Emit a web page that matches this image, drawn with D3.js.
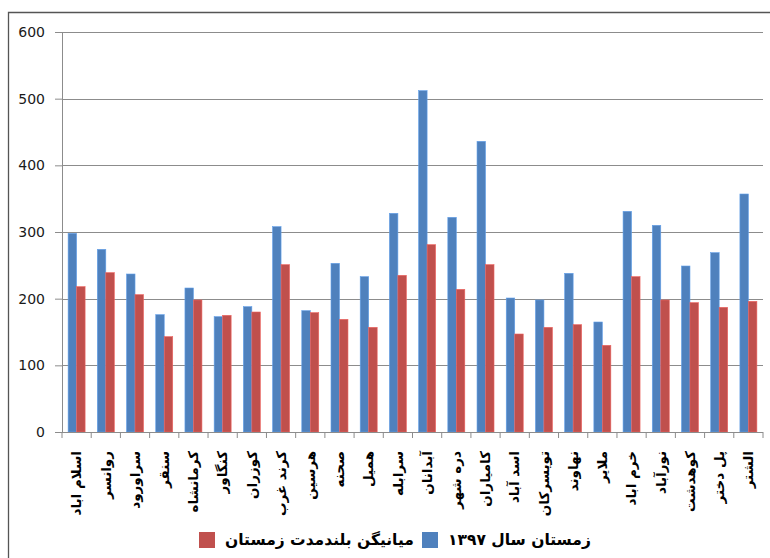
<!DOCTYPE html>
<html>
<head>
<meta charset="utf-8">
<script src="https://cdnjs.cloudflare.com/ajax/libs/d3/7.8.5/d3.min.js"></script>
<style>
  body { margin: 0; background: #fff; }
  svg { display: block; }
</style>
</head>
<body>
<div id="chart"></div>
<script>
// categories (cities)
var cities = ["اسلام اباد", "روانسر", "سراورود", "سنقر", "کرمانشاه", "کنگاور", "کوزران", "کرند غرب",
    "هرسین", "صحنه", "همیل", "سرابله", "آبدانان", "دره شهر", "کامیاران", "اسد آباد",
    "تویسرکان", "نهاوند", "ملایر", "خرم اباد", "نورآباد", "کوهدشت", "پل دختر", "الشتر"];

// winter 1397
var winter1397 = [298, 274, 237, 176, 216, 173, 188, 308, 182, 253, 233, 328,
    512, 322, 436, 201, 198, 238, 165, 331, 310, 249, 269, 357];

// long-term winter mean
var winterMean = [218, 239, 206, 143, 198, 175, 180, 251, 179, 169, 157, 235,
    281, 214, 251, 147, 157, 161, 130, 233, 198, 194, 187, 196];

var seriesNames = ["زمستان سال ۱۳۹۷", "میانیگن بلندمدت زمستان"];
var yTicks = [0, 100, 200, 300, 400, 500, 600];

var W = 770, H = 558;
var margin = {top: 32, right: 7, bottom: 126, left: 62},
    width = W - margin.left - margin.right,
    height = H - margin.top - margin.bottom;

var colors = ["#4F81BD", "#C0504D"];

var svg = d3.select("#chart")
    .append("svg")
    .attr("width", W)
    .attr("height", H);

// outer frame (left and top edges visible)
svg.append("path")
    .attr("d", "M8.5," + H + "V12.5H" + W)
    .attr("fill", "none")
    .attr("stroke", "#555")
    .attr("stroke-width", 1.3);

var g = svg.append("g")
    .attr("transform", "translate(" + margin.left + "," + margin.top + ")");

var x0 = d3.scaleBand()
    .domain(cities)
    .range([0, width])
    .padding(0);

var x1 = d3.scaleBand()
    .domain([0, 1])
    .range([0, x0.bandwidth()])
    .paddingInner(0)
    .paddingOuter(0.72);

var y = d3.scaleLinear()
    .domain([0, 600])
    .range([height, 0]);

// gridlines + y axis
var yAxis = g.append("g")
    .call(d3.axisLeft(y).tickValues(yTicks).tickSize(7).tickPadding(10).tickFormat(d3.format("d")));
yAxis.select(".domain").attr("stroke", "#8c8c8c");
yAxis.selectAll(".tick line").attr("stroke", "#8c8c8c");
yAxis.selectAll(".tick text")
    .style("font-family", "DejaVu Sans")
    .style("font-size", "14px")
    .attr("fill", "#1a1a1a");

g.append("g")
    .selectAll("line")
    .data(yTicks.filter(function(d) { return d > 0; }))
    .enter()
    .append("line")
    .attr("x1", 0)
    .attr("x2", width)
    .attr("y1", function(d) { return Math.round(y(d)) + 0.5; })
    .attr("y2", function(d) { return Math.round(y(d)) + 0.5; })
    .attr("stroke", "#8c8c8c")
    .attr("stroke-width", 1.2);

// bars
var groups = g.append("g")
    .selectAll("g")
    .data(cities)
    .enter()
    .append("g")
    .attr("transform", function(d) { return "translate(" + x0(d) + ",0)"; });

groups.selectAll("rect")
    .data(function(d, i) { return [winter1397[i], winterMean[i]]; })
    .enter()
    .append("rect")
    .attr("x", function(d, j) { return x1(j); })
    .attr("y", function(d) { return y(d); })
    .attr("width", x1.bandwidth())
    .attr("height", function(d) { return height - y(d); })
    .attr("fill", function(d, j) { return colors[j]; })
    .attr("stroke", function(d, j) { return d3.color(colors[j]).brighter(0.6); })
    .attr("stroke-width", 0.6);

// x axis with ticks between categories
var xAxis = g.append("g")
    .attr("transform", "translate(0," + height + ")");
xAxis.append("line")
    .attr("x1", 0).attr("x2", width)
    .attr("y1", 0.5).attr("y2", 0.5)
    .attr("stroke", "#8c8c8c")
    .attr("stroke-width", 1.2);
xAxis.selectAll(".xt")
    .data(cities.concat(["__end"]))
    .enter()
    .append("line")
    .attr("class", "xt")
    .attr("x1", function(d, i) { return i < cities.length ? x0(d) : width; })
    .attr("x2", function(d, i) { return i < cities.length ? x0(d) : width; })
    .attr("y1", 0)
    .attr("y2", 6)
    .attr("stroke", "#8c8c8c");

xAxis.selectAll(".xl")
    .data(cities)
    .enter()
    .append("text")
    .attr("class", "xl")
    .attr("transform", function(d) {
        return "translate(" + (x0(d) + x0.bandwidth() / 2) + ",19) rotate(-90)";
    })
    .attr("text-anchor", "end")
    .attr("dy", "0.35em")
    .style("font-family", "DejaVu Sans")
    .style("font-size", "13.5px")
    .style("font-weight", "bold")
    .attr("fill", "#000")
    .text(function(d) { return d; });

// legend
var legend = svg.append("g");
var legendItems = [
    {name: seriesNames[1], color: colors[1], x: 199},
    {name: seriesNames[0], color: colors[0], x: 422}
];
legendItems.forEach(function(it) {
    legend.append("rect")
        .attr("x", it.x)
        .attr("y", 532)
        .attr("width", 16)
        .attr("height", 16)
        .attr("fill", it.color);
    legend.append("text")
        .attr("x", it.x + 26)
        .attr("y", 540)
        .attr("dy", "0.35em")
        .style("font-family", "DejaVu Sans")
        .style("font-size", "15.5px")
        .style("font-weight", "bold")
        .attr("fill", "#000")
        .text(it.name);
});
</script>
</body>
</html>
